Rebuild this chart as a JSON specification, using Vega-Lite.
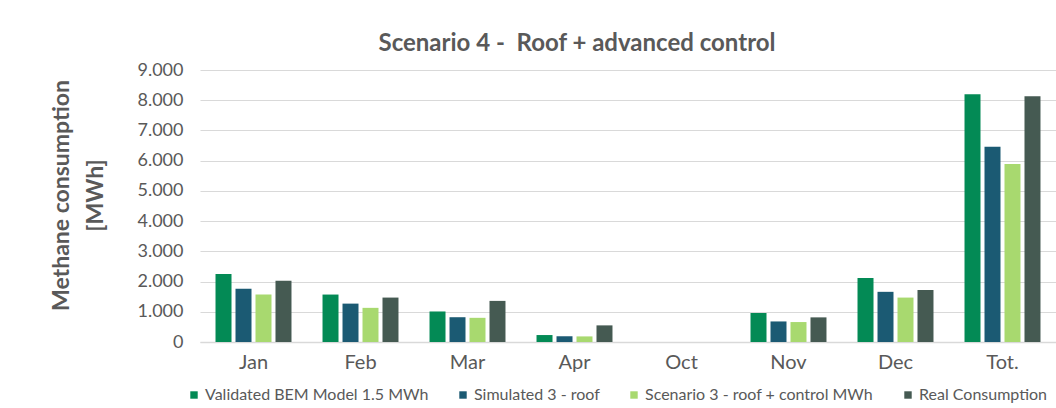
{
  "$schema": "https://vega.github.io/schema/vega-lite/v6.json",
  "autosize": "none",
  "width": 856,
  "height": 272,
  "padding": {"left": 200, "top": 70, "right": 0, "bottom": 66},
  "background": "white",
  "title": {
    "text": "Scenario 4 -\u00a0 Roof + advanced control",
    "font": "Lato",
    "fontSize": 24,
    "fontWeight": "bold",
    "color": "#595959",
    "anchor": "middle",
    "dx": -51,
    "offset": 5
  },
  "data": {
    "values": [
      {"month": "Jan", "series": "Validated BEM Model 1.5 MWh", "value": 2250},
      {"month": "Jan", "series": "Simulated 3 - roof", "value": 1760},
      {"month": "Jan", "series": "Scenario 3 - roof + control MWh", "value": 1570},
      {"month": "Jan", "series": "Real Consumption", "value": 2030},
      {"month": "Feb", "series": "Validated BEM Model 1.5 MWh", "value": 1570},
      {"month": "Feb", "series": "Simulated 3 - roof", "value": 1270},
      {"month": "Feb", "series": "Scenario 3 - roof + control MWh", "value": 1130},
      {"month": "Feb", "series": "Real Consumption", "value": 1470},
      {"month": "Mar", "series": "Validated BEM Model 1.5 MWh", "value": 1010},
      {"month": "Mar", "series": "Simulated 3 - roof", "value": 820},
      {"month": "Mar", "series": "Scenario 3 - roof + control MWh", "value": 800},
      {"month": "Mar", "series": "Real Consumption", "value": 1360},
      {"month": "Apr", "series": "Validated BEM Model 1.5 MWh", "value": 230},
      {"month": "Apr", "series": "Simulated 3 - roof", "value": 190},
      {"month": "Apr", "series": "Scenario 3 - roof + control MWh", "value": 185},
      {"month": "Apr", "series": "Real Consumption", "value": 550},
      {"month": "Oct", "series": "Validated BEM Model 1.5 MWh", "value": 0},
      {"month": "Oct", "series": "Simulated 3 - roof", "value": 0},
      {"month": "Oct", "series": "Scenario 3 - roof + control MWh", "value": 0},
      {"month": "Oct", "series": "Real Consumption", "value": 0},
      {"month": "Nov", "series": "Validated BEM Model 1.5 MWh", "value": 960},
      {"month": "Nov", "series": "Simulated 3 - roof", "value": 680},
      {"month": "Nov", "series": "Scenario 3 - roof + control MWh", "value": 660},
      {"month": "Nov", "series": "Real Consumption", "value": 815},
      {"month": "Dec", "series": "Validated BEM Model 1.5 MWh", "value": 2120},
      {"month": "Dec", "series": "Simulated 3 - roof", "value": 1660},
      {"month": "Dec", "series": "Scenario 3 - roof + control MWh", "value": 1470},
      {"month": "Dec", "series": "Real Consumption", "value": 1720},
      {"month": "Tot.", "series": "Validated BEM Model 1.5 MWh", "value": 8200},
      {"month": "Tot.", "series": "Simulated 3 - roof", "value": 6460},
      {"month": "Tot.", "series": "Scenario 3 - roof + control MWh", "value": 5890},
      {"month": "Tot.", "series": "Real Consumption", "value": 8130}
    ]
  },
  "mark": {"type": "bar"},
  "encoding": {
    "x": {
      "field": "month",
      "type": "nominal",
      "sort": ["Jan", "Feb", "Mar", "Apr", "Oct", "Nov", "Dec", "Tot."],
      "scale": {"paddingInner": 0.29, "paddingOuter": 0.145},
      "axis": {
        "title": null,
        "labelAngle": 0,
        "labelFont": "Lato",
        "labelFontSize": 20,
        "labelColor": "#595959",
        "labelPadding": 10,
        "ticks": false,
        "domainColor": "#d9d9d9",
        "domainWidth": 1.5
      }
    },
    "xOffset": {
      "field": "series",
      "type": "nominal",
      "sort": ["Validated BEM Model 1.5 MWh", "Simulated 3 - roof", "Scenario 3 - roof + control MWh", "Real Consumption"],
      "scale": {"paddingInner": 0.2, "paddingOuter": 0}
    },
    "y": {
      "field": "value",
      "type": "quantitative",
      "scale": {"domain": [0, 9000], "nice": false},
      "axis": {
        "title": ["Methane consumption", "[MWh]"],
        "titleFont": "Lato",
        "titleFontSize": 23,
        "titleFontWeight": "bold",
        "titleColor": "#595959",
        "titlePadding": 29,
        "titleLineHeight": 34,
        "titleY": 125,
        "values": [0, 1000, 2000, 3000, 4000, 5000, 6000, 7000, 8000, 9000],
        "labelExpr": "replace(format(datum.value, ',.0f'), ',', '.')",
        "labelFont": "Lato",
        "labelFontSize": 18,
        "labelColor": "#595959",
        "labelPadding": 17,
        "ticks": false,
        "domain": false,
        "gridColor": "#d9d9d9",
        "gridWidth": 1.2
      }
    },
    "color": {
      "field": "series",
      "type": "nominal",
      "sort": ["Validated BEM Model 1.5 MWh", "Simulated 3 - roof", "Scenario 3 - roof + control MWh", "Real Consumption"],
      "scale": {"range": ["#038a55", "#1b5a73", "#a8d96f", "#455a52"]},
      "legend": {
        "title": null,
        "orient": "none",
        "direction": "horizontal",
        "columns": 4,
        "legendX": -14,
        "legendY": 317,
        "symbolType": "square",
        "symbolSize": 55,
        "symbolStrokeWidth": 0,
        "labelFont": "Lato",
        "labelFontSize": 16,
        "labelColor": "#595959",
        "labelOffset": 3,
        "columnPadding": 26,
        "labelLimit": 400
      }
    }
  },
  "config": {"view": {"stroke": null}}
}
